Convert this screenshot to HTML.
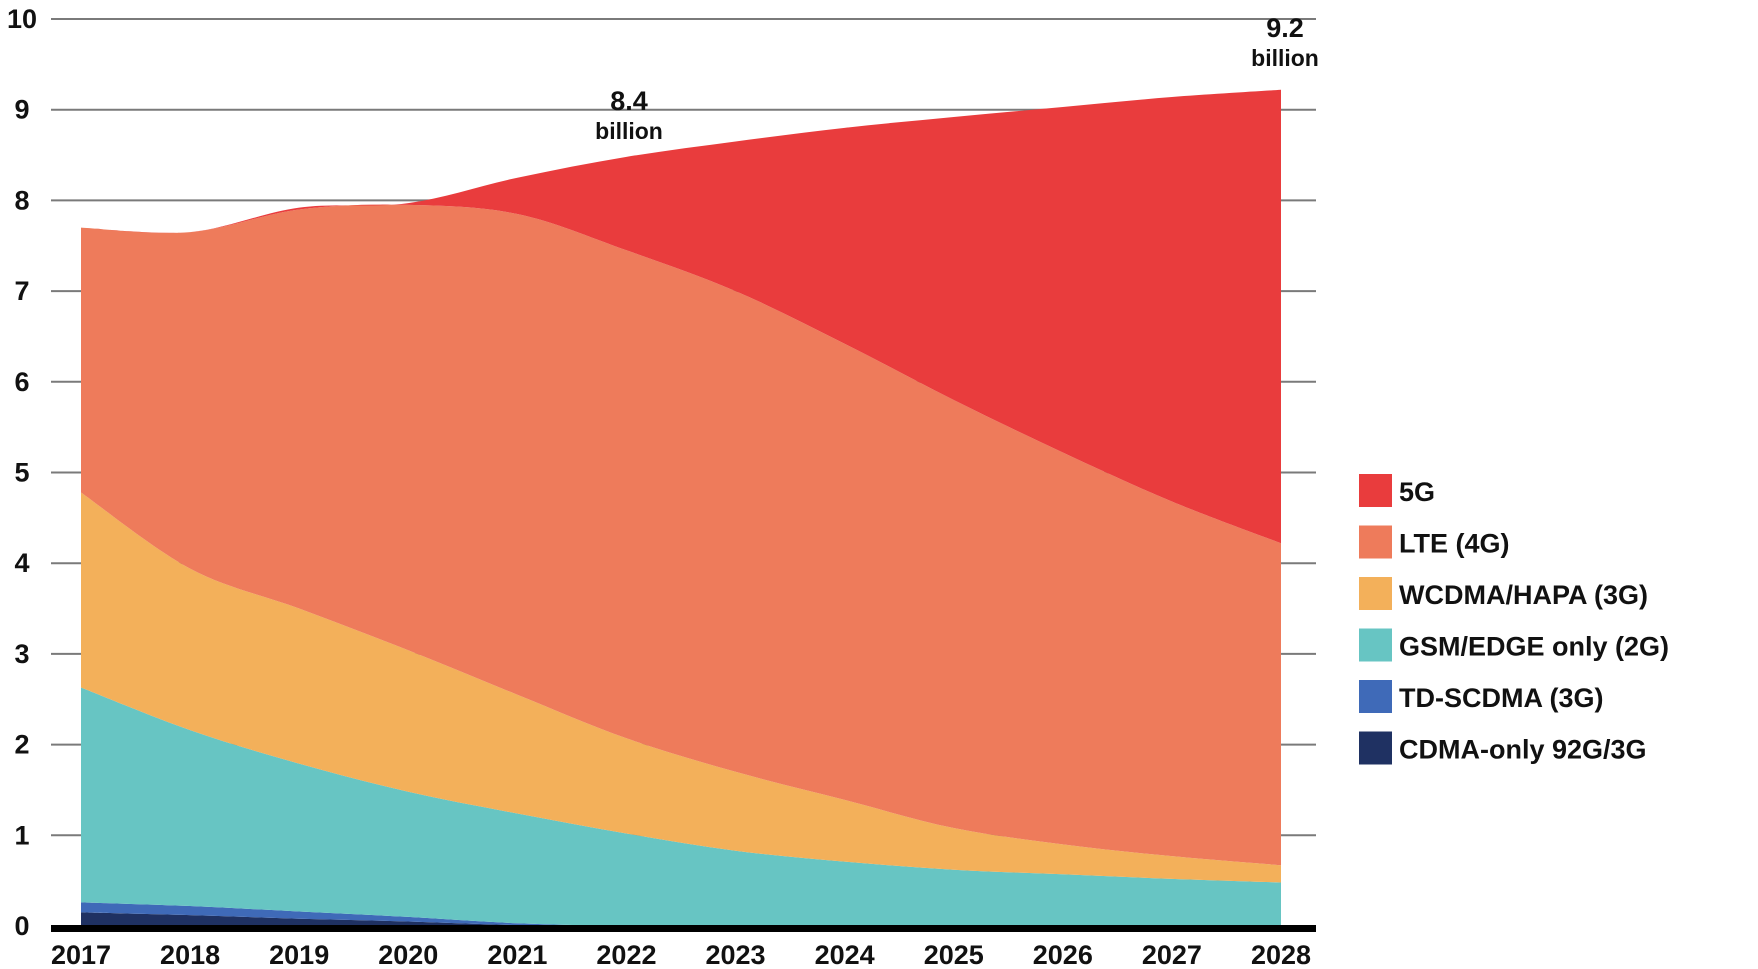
<!DOCTYPE html>
<html><head><meta charset="utf-8"><style>
body{margin:0;background:#fff;}
svg{display:block;font-family:"Liberation Sans",sans-serif;font-weight:bold;}
</style></head><body>
<svg id="chart" width="1758" height="969" viewBox="0 0 1758 969"></svg>
<script>
const years = [2017,2018,2019,2020,2021,2022,2023,2024,2025,2026,2027,2028];
const cdma  = [0.15,0.12,0.08,0.05,0.01,0,0,0,0,0,0,0];
const tdscdma = [0.11,0.10,0.08,0.05,0.02,0,0,0,0,0,0,0];
const gsm   = [2.37,1.94,1.63,1.38,1.21,1.02,0.83,0.71,0.62,0.57,0.52,0.48];
const wcdma = [2.15,1.78,1.71,1.56,1.31,1.05,0.87,0.68,0.46,0.33,0.25,0.19];
const lte   = [2.92,3.71,4.40,4.91,5.30,5.38,5.30,5.03,4.72,4.32,3.91,3.55];
const g5    = [0,0,0.02,0.02,0.40,1.03,1.65,2.38,3.12,3.81,4.46,5.00];
const yTicks = [0,1,2,3,4,5,6,7,8,9,10];
const seriesNames = ["CDMA-only 92G/3G","TD-SCDMA (3G)","GSM/EDGE only (2G)","WCDMA/HAPA (3G)","LTE (4G)","5G"];
const seriesColors = ["#1f3162","#3f6ab8","#67c5c3","#f3b05a","#ee7b5b","#e93c3d"];
const seriesData = [cdma,tdscdma,gsm,wcdma,lte,g5];

const svg = document.getElementById('chart');
const NS = "http://www.w3.org/2000/svg";
const x = i => 81 + (1281-81) * (years[i]-years[0]) / (years[years.length-1]-years[0]);
const y = v => 926 - v * (926-19) / 10;
function mk(tag, attrs){const e=document.createElementNS(NS,tag);for(const k in attrs)e.setAttribute(k,attrs[k]);svg.appendChild(e);return e;}

yTicks.forEach(t=>{
  const l = mk('line',{x1:51,x2:1316,y1:y(t),y2:y(t),stroke:'#7a7a7a','stroke-width':2});
  
  
  const tx = mk('text',{x:22,y:y(t)+9,'text-anchor':'middle','font-size':27,fill:'#111'});
  tx.textContent = t;
  
  
});

function smooth(pts){
  let d = `M${pts[0][0]},${pts[0][1]}`;
  for(let i=0;i<pts.length-1;i++){
    const p0=pts[Math.max(0,i-1)],p1=pts[i],p2=pts[i+1],p3=pts[Math.min(pts.length-1,i+2)];
    const c1=[p1[0]+(p2[0]-p0[0])/6,p1[1]+(p2[1]-p0[1])/6];
    const c2=[p2[0]-(p3[0]-p1[0])/6,p2[1]-(p3[1]-p1[1])/6];
    d+=` C${c1[0]},${c1[1]} ${c2[0]},${c2[1]} ${p2[0]},${p2[1]}`;
  }
  return d;
}
let cum = years.map(()=>0);
seriesData.forEach((s,si)=>{
  const lower = cum.slice();
  const upper = cum.map((c,i)=>c+s[i]);
  const up = upper.map((v,i)=>[x(i),y(v)]);
  const lo = lower.map((v,i)=>[x(i),y(v)]).reverse();
  let d = smooth(up) + ' L' + smooth(lo).slice(1) + ' Z';
  const p = mk('path',{d:d,fill:seriesColors[si]});
  
  
  cum = upper;
});

const base = mk('rect',{x:51,y:925,width:1265,height:7,fill:'#000'});



years.forEach((yr,i)=>{
  const t = mk('text',{x:x(i),y:964,'text-anchor':'middle','font-size':27,fill:'#111'});
  t.textContent = yr;
  
  
});

[[629,'8.4',101,'annotation-2022'],[1285,'9.2',28,'annotation-2028']].forEach(a=>{
  const t1 = mk('text',{x:a[0],y:a[2]+9,'text-anchor':'middle','font-size':27,fill:'#111'});
  t1.textContent = a[1];
  
  
  const t2 = mk('text',{x:a[0],y:a[2]+38,'text-anchor':'middle','font-size':23,fill:'#111'});
  t2.textContent = 'billion';
  
  
});

for(let k=0;k<6;k++){
  const si = 5-k;
  const yy = 474 + k*51.5;
  const r = mk('rect',{x:1359,y:yy,width:33,height:33,fill:seriesColors[si]});
  
  
  const t = mk('text',{x:1399,y:yy+27,'font-size':27,fill:'#111'});
  t.textContent = seriesNames[si];
  
  
}
</script>
</body></html>
